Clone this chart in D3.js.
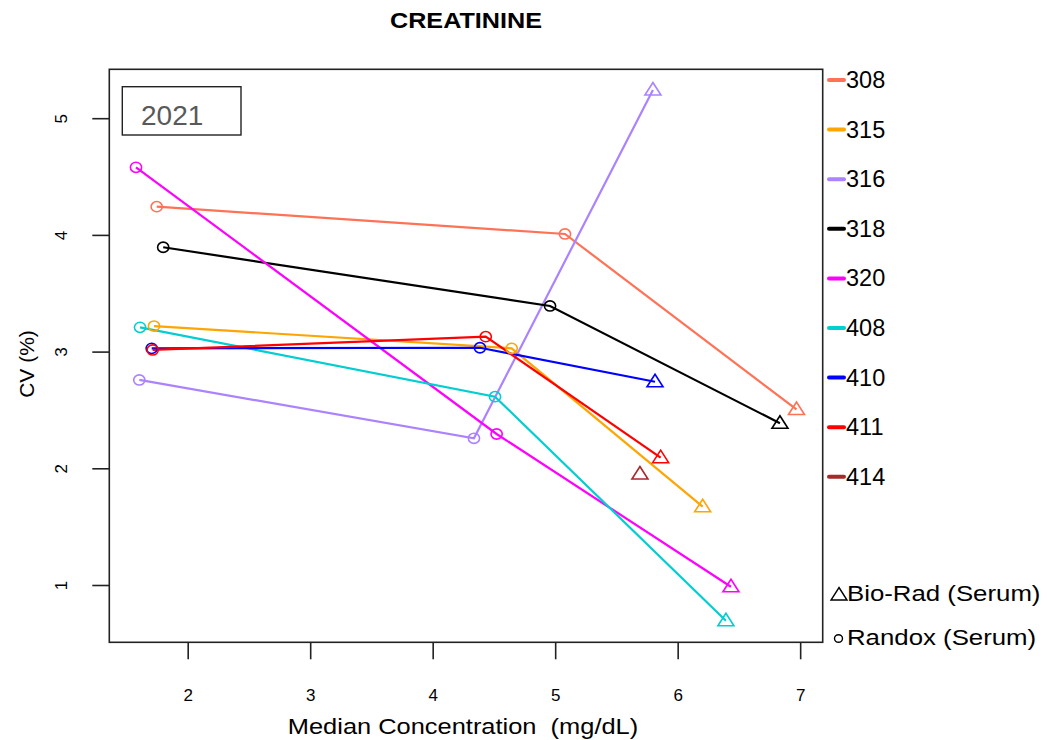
<!DOCTYPE html>
<html>
<head>
<meta charset="utf-8">
<script src="https://cdn.jsdelivr.net/npm/d3@7"></script>
<style>
  body { margin: 0; background: #fff; }
  text { font-family: "Liberation Sans", Arial, Helvetica, sans-serif; white-space: pre; }
</style>
</head>
<body>
<svg id="chart" width="1047" height="740"></svg>
<script>
// Laboratories and their colours
const labs      = ["308", "315", "316", "318", "320", "408", "410", "411", "414"];
const labColors = ["#FF7256", "#FFA500", "#AB82FF", "#000000", "#FF00FF", "#00CED1", "#0000FF", "#FF0000", "#A52A2A"];

// Randox (Serum) controls: two levels per laboratory (null = not reported)
const randoxLowConc  = [1.747, 1.725, 1.605, 1.800, 1.578, 1.611, 1.706, 1.714, null];
const randoxLowCV    = [4.242, 3.219, 2.757, 3.894, 4.579, 3.208, 3.028, 3.014, null];
const randoxHighConc = [5.080, 4.645, 4.337, 4.958, 4.522, 4.509, 4.386, 4.433, null];
const randoxHighCV   = [4.008, 3.028, 2.257, 3.391, 2.294, 2.614, 3.033, 3.128, null];

// Bio-Rad (Serum) control: one level per laboratory
const bioradConc = [6.970, 6.204, 5.798, 6.835, 6.435, 6.394, 5.815, 5.861, 5.692];
const bioradCV   = [2.504, 1.671, 5.242, 2.386, 0.985, 0.694, 2.742, 2.091, 1.951];

const xTicks = [2, 3, 4, 5, 6, 7];
const yTicks = [1, 2, 3, 4, 5];
const panelYear = "2021";
const materials = ["Bio-Rad (Serum)", "Randox (Serum)"];

const svg = d3.select("#chart");
const box = { left: 109.3, right: 822.7, top: 69.3, bottom: 642.3 };

const x = d3.scaleLinear().domain([1.36, 7.184]).range([box.left, box.right]);
const y = d3.scaleLinear().domain([0.509, 5.419]).range([box.bottom, box.top]);

// Title
svg.append("text")
  .attr("transform", "translate(466,28) scale(1.12,1)")
  .attr("text-anchor", "middle")
  .attr("font-size", 22.5).attr("font-weight", "bold")
  .text("CREATININE");

// Axes
const xAxis = svg.append("g")
  .attr("transform", `translate(0,${box.bottom})`)
  .call(d3.axisBottom(x).tickValues(xTicks).tickSize(17).tickPadding(30).tickFormat(d3.format("d")));
const yAxis = svg.append("g")
  .attr("transform", `translate(${box.left},0)`)
  .call(d3.axisLeft(y).tickValues(yTicks).tickSize(17).tickPadding(0).tickFormat(d3.format("d")));

[xAxis, yAxis].forEach(g => {
  g.attr("font-size", 17).attr("font-family", "\"Liberation Sans\", Arial, sans-serif");
  g.select(".domain").remove();
  g.selectAll(".tick line").attr("stroke", "#222").attr("stroke-width", 1.6);
  g.selectAll(".tick text").attr("font-size", 17).attr("fill", "#000");
});
// y tick labels run parallel to the axis
yAxis.selectAll(".tick text")
  .attr("x", null)
  .attr("text-anchor", "middle")
  .attr("transform", "translate(-48,0) rotate(-90)")
  .attr("dy", "0.35em");

// Axis titles
svg.append("text")
  .attr("transform", "translate(463,734) scale(1.13,1)")
  .attr("text-anchor", "middle").attr("font-size", 22.5)
  .text("Median Concentration  (mg/dL)");
svg.append("text")
  .attr("transform", "translate(34,364) rotate(-90)")
  .attr("text-anchor", "middle").attr("font-size", 21)
  .text("CV (%)");

// Plot frame
svg.append("rect")
  .attr("x", box.left).attr("y", box.top)
  .attr("width", box.right - box.left).attr("height", box.bottom - box.top)
  .attr("fill", "none").attr("stroke", "#222").attr("stroke-width", 1.6);

// Year panel label
svg.append("rect")
  .attr("x", 122.3).attr("y", 86.7).attr("width", 118.7).attr("height", 48.3)
  .attr("fill", "#fff").attr("stroke", "#222").attr("stroke-width", 1.4);
svg.append("text")
  .attr("x", 141).attr("y", 125)
  .attr("font-size", 28).attr("fill", "#595959")
  .text(panelYear);

// Series: Randox low -> Randox high -> Bio-Rad, per laboratory
const series = labs.map((lab, i) => {
  const pts = [];
  if (randoxLowConc[i] != null) pts.push({ cx: randoxLowConc[i], cv: randoxLowCV[i], kind: "randox" });
  if (randoxHighConc[i] != null) pts.push({ cx: randoxHighConc[i], cv: randoxHighCV[i], kind: "randox" });
  pts.push({ cx: bioradConc[i], cv: bioradCV[i], kind: "biorad" });
  return { lab, color: labColors[i], pts };
});

const line = d3.line().x(d => x(d.cx)).y(d => y(d.cv));
const triPath = "M0,-7.5L8,5L-8,5Z";

const plot = svg.append("g");
series.forEach(s => {
  if (s.pts.length > 1) {
    plot.append("path").datum(s.pts)
      .attr("d", line).attr("fill", "none")
      .attr("stroke", s.color).attr("stroke-width", 2.2);
  }
});
series.forEach(s => {
  const g = plot.append("g");
  g.selectAll("ellipse").data(s.pts.filter(p => p.kind === "randox")).join("ellipse")
    .attr("cx", d => x(d.cx)).attr("cy", d => y(d.cv))
    .attr("rx", 5.6).attr("ry", 5.1)
    .attr("fill", "none").attr("stroke", s.color).attr("stroke-width", 1.6);
  g.selectAll("path").data(s.pts.filter(p => p.kind === "biorad")).join("path")
    .attr("transform", d => `translate(${x(d.cx)},${y(d.cv)})`)
    .attr("d", triPath)
    .attr("fill", "none").attr("stroke", s.color).attr("stroke-width", 1.6)
    .attr("stroke-linejoin", "miter");
});

// Legend: laboratories
const leg = svg.append("g");
labs.forEach((lab, i) => {
  const ly = 80 + i * 49.6;
  leg.append("line")
    .attr("x1", 829).attr("x2", 844).attr("y1", ly).attr("y2", ly)
    .attr("stroke", labColors[i]).attr("stroke-width", 4).attr("stroke-linecap", "round");
  leg.append("text")
    .attr("x", 846).attr("y", ly + 8)
    .attr("font-size", 23.5)
    .text(lab);
});

// Legend: control materials
leg.append("path")
  .attr("transform", "translate(839,595)")
  .attr("d", triPath)
  .attr("fill", "none").attr("stroke", "#000").attr("stroke-width", 1.4);
leg.append("text").attr("transform", "translate(847,601) scale(1.2,1)").attr("font-size", 21.5).text(materials[0]);
leg.append("ellipse")
  .attr("cx", 838.5).attr("cy", 638.5).attr("rx", 4).attr("ry", 3.8)
  .attr("fill", "none").attr("stroke", "#000").attr("stroke-width", 1.4);
leg.append("text").attr("transform", "translate(847,645) scale(1.2,1)").attr("font-size", 21.5).text(materials[1]);
</script>
</body>
</html>
